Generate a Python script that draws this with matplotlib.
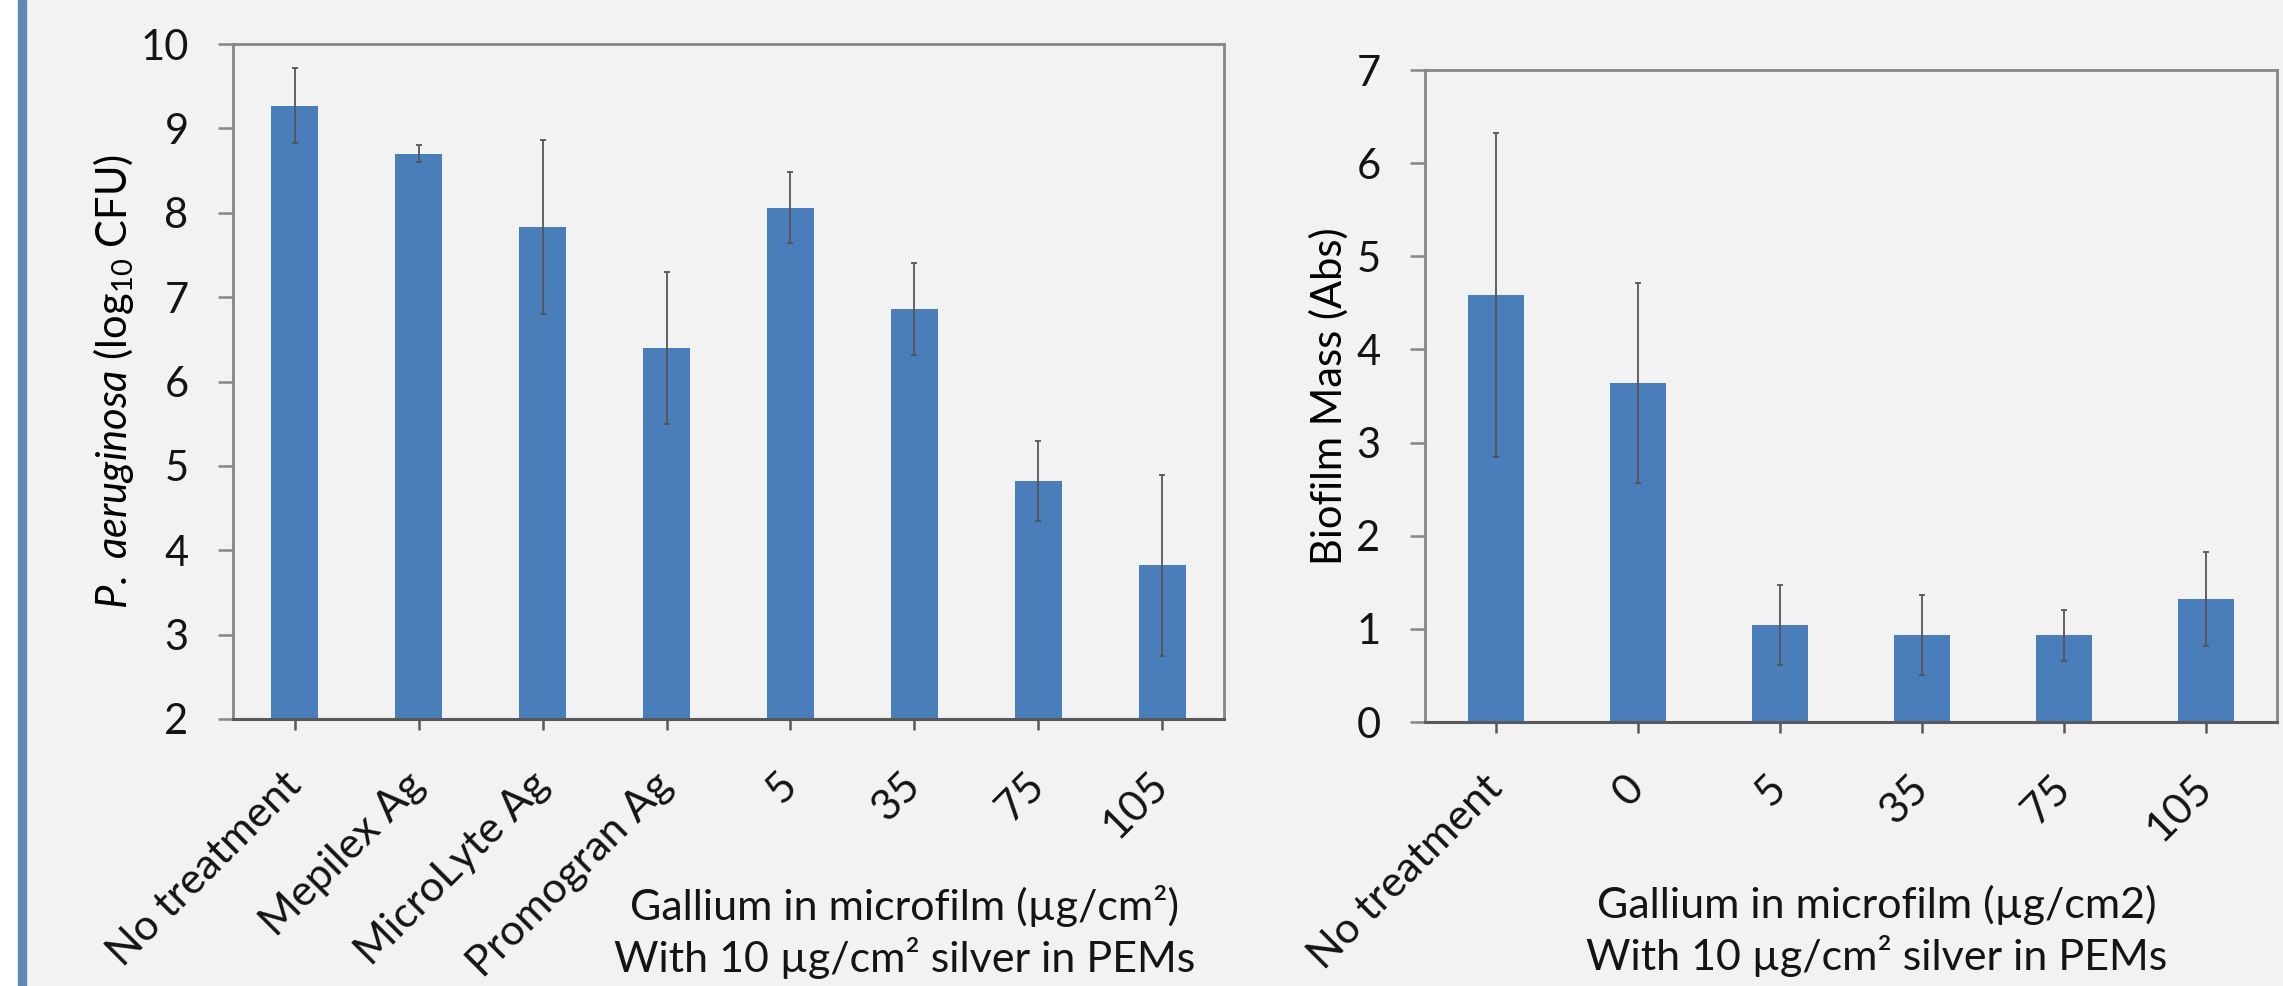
import matplotlib
matplotlib.use('Agg')
import matplotlib.pyplot as plt
from matplotlib.patches import Rectangle
import numpy as np

# left panel: P. aeruginosa counts (log10 CFU)
left_labels = ['No treatment', 'Mepilex Ag', 'MicroLyte Ag', 'Promogran Ag', '5', '35', '75', '105']
left_means = [9.27, 8.70, 7.83, 6.40, 8.06, 6.86, 4.82, 3.82]
left_err = [0.44, 0.10, 1.03, 0.90, 0.42, 0.54, 0.47, 1.07]

# right panel: biofilm mass (Abs)
right_labels = ['No treatment', '0', '5', '35', '75', '105']
right_means = [4.58, 3.64, 1.04, 0.93, 0.93, 1.32]
right_err = [1.74, 1.07, 0.43, 0.43, 0.27, 0.50]

BG = '#f2f2f2'
BAR = '#4a7ebb'
W, H = 2283, 986

plt.rcParams['font.family'] = ['Lato', 'DejaVu Sans']
plt.rcParams['mathtext.fontset'] = 'custom'
plt.rcParams['mathtext.rm'] = 'Lato'
plt.rcParams['mathtext.it'] = 'Lato:italic'
plt.rcParams['text.color'] = '#141414'
plt.rcParams['xtick.labelcolor'] = '#141414'
plt.rcParams['ytick.labelcolor'] = '#141414'

fig = plt.figure(figsize=(W / 100, H / 100), dpi=100, facecolor=BG)

# white strip and blue frame line on the left edge
fig.patches.append(Rectangle((0, 0), 17 / W, 1, transform=fig.transFigure, color='white', zorder=0))
fig.patches.append(Rectangle((18 / W, 0), 8 / W, 1, transform=fig.transFigure, color='#5f87b8', zorder=1))


def draw_panel(rect, labels, means, errs, ylim, width, ylabel, label_x):
    ax = fig.add_axes(rect)
    ax.set_facecolor(BG)
    x = np.arange(len(labels))
    ax.bar(x, means, width=width, color=BAR, zorder=2)
    ax.errorbar(x, means, yerr=errs, fmt='none', ecolor='#555555', elinewidth=1.3,
                capsize=2, capthick=1.3, zorder=3)
    ax.set_xlim(-0.5, len(labels) - 0.5)
    ax.set_ylim(*ylim)
    ax.set_yticks(range(ylim[0], ylim[1] + 1))
    ax.set_xticks(x)
    ax.set_xticklabels(labels)
    for s in ['left', 'top', 'right']:
        ax.spines[s].set_color('#868686')
        ax.spines[s].set_linewidth(2)
    ax.spines['bottom'].set_color('#595959')
    ax.spines['bottom'].set_linewidth(2.2)
    ax.tick_params(axis='y', length=11, width=1.8, color='#868686', pad=21, labelsize=30)
    ax.tick_params(axis='x', length=8, width=1.8, color='#595959', pad=35, labelsize=31)
    plt.setp(ax.get_xticklabels(), rotation=45, ha='right', va='center', rotation_mode='anchor')
    ax.set_ylabel(ylabel, fontsize=30)
    ax.yaxis.set_label_coords(label_x, 0.5)
    return ax


ax1 = draw_panel([233 / W, 1 - 719 / H, 991 / W, 675 / H], left_labels, left_means, left_err,
                 (2, 10), 0.38, r'$\it{P.}$ $\it{aeruginosa}$ (log$_{10}$ CFU)', -0.098)
ax2 = draw_panel([1425 / W, 1 - 722 / H, 852 / W, 652 / H], right_labels, right_means, right_err,
                 (0, 7), 0.40, 'Biofilm Mass (Abs)', -0.089)

fig.text(905 / W, 1 - 932 / H, 'Gallium in microfilm (µg/cm²)\nWith 10 µg/cm² silver in PEMs',
         ha='center', va='center', fontsize=31, linespacing=1.3)
fig.text(1877 / W, 1 - 931 / H, 'Gallium in microfilm (µg/cm2)\nWith 10 µg/cm² silver in PEMs',
         ha='center', va='center', fontsize=31, linespacing=1.3)

fig.savefig('out.png', dpi=100, facecolor=BG)
